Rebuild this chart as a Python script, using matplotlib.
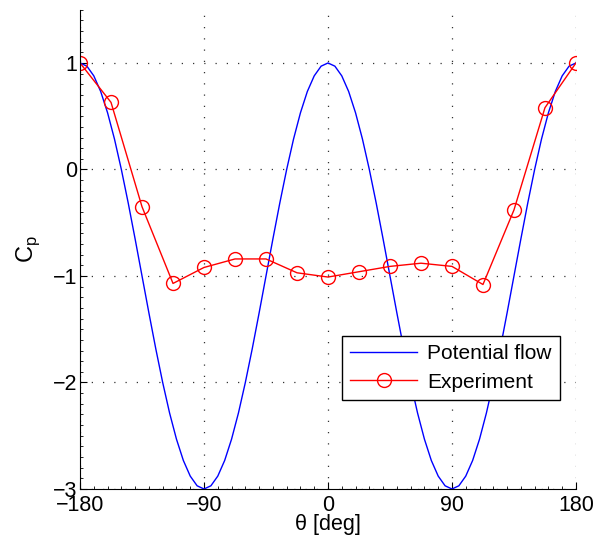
import numpy as np
import matplotlib.pyplot as plt
from matplotlib.ticker import MultipleLocator

plt.rcParams['font.family'] = ['Liberation Sans', 'DejaVu Sans']

# Potential flow, sampled every 5 degrees
theta_pf = np.arange(-180, 181, 5)
cp_pf = [1.000, 0.970, 0.879, 0.732, 0.532, 0.286, 0.000, -0.316, -0.653, -1.000,
         -1.347, -1.684, -2.000, -2.286, -2.532, -2.732, -2.879, -2.970, -3.000,
         -2.970, -2.879, -2.732, -2.532, -2.286, -2.000, -1.684, -1.347, -1.000,
         -0.653, -0.316, 0.000, 0.286, 0.532, 0.732, 0.879, 0.970, 1.000,
         0.970, 0.879, 0.732, 0.532, 0.286, 0.000, -0.316, -0.653, -1.000,
         -1.347, -1.684, -2.000, -2.286, -2.532, -2.732, -2.879, -2.970, -3.000,
         -2.970, -2.879, -2.732, -2.532, -2.286, -2.000, -1.684, -1.347, -1.000,
         -0.653, -0.316, 0.000, 0.286, 0.532, 0.732, 0.879, 0.970, 1.000]

# Experiment, every 22.5 degrees
theta_exp = np.arange(-180, 180.1, 22.5)
cp_exp = [1.00, 0.63, -0.35, -1.07, -0.92, -0.84, -0.84, -0.97, -1.01,
          -0.96, -0.91, -0.88, -0.91, -1.08, -0.38, 0.58, 1.00]

fig = plt.figure(figsize=(5.95, 5.49), dpi=100)
ax = fig.add_axes([0.1345, 0.1093, 0.8335, 0.873])

ax.plot(theta_pf, cp_pf, color='#0000ff', lw=1.0, label='Potential flow')
ax.plot(theta_exp, cp_exp, color='#ff0000', lw=1.0, marker='o', ms=10,
        mfc='none', mec='#ff0000', mew=1.0, label='Experiment')

ax.set_xlim(-180, 180)
ax.set_ylim(-3, 1.5)
ax.set_xticks([-180, -90, 0, 90, 180])
ax.set_yticks([-3, -2, -1, 0, 1])
ax.set_xticklabels(['\u2212180', '\u221290', '0', '90', '180'])
ax.set_yticklabels(['\u22123', '\u22122', '\u22121', '0', '1'])
ax.xaxis.set_minor_locator(MultipleLocator(10))
ax.yaxis.set_minor_locator(MultipleLocator(0.1))
ax.tick_params(which='both', direction='in', labelsize=15.5, pad=2)
ax.tick_params(axis='x', which='major', pad=4)
ax.tick_params(which='major', length=5)
ax.tick_params(which='minor', length=2.5)

for s in ['top', 'right']:
    ax.spines[s].set_visible(False)
ax.grid(True, which='major', ls=(0, (1, 8)), color='#333333', lw=0.9)

ax.set_xlabel('\u03b8 [deg]', fontsize=15.5, labelpad=-1)
ax.set_ylabel('C$_\\mathregular{p}$', fontsize=17, labelpad=8)

leg = ax.legend(loc='lower right', bbox_to_anchor=(0.968, 0.186), fontsize=15,
                fancybox=False, edgecolor='k', framealpha=1, borderpad=0.4,
                handlelength=3.2, handletextpad=0.5, labelspacing=0.45,
                borderaxespad=0)
leg.get_frame().set_linewidth(1.0)

fig.savefig('out.png', dpi=100)
